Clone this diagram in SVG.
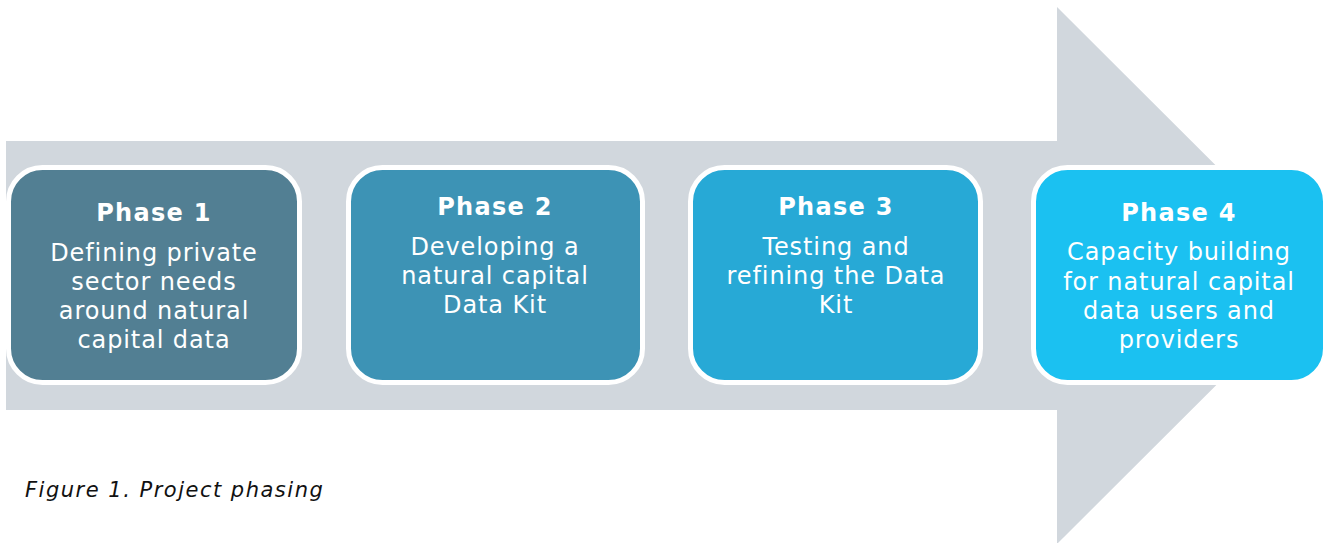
<svg xmlns="http://www.w3.org/2000/svg" width="1329" height="543" viewBox="0 0 1329 543">
<style>
.box{stroke:#ffffff;stroke-width:5}
.t{font-family:"DejaVu Sans",Verdana,sans-serif;fill:#ffffff;text-anchor:middle}
.h{font-size:24px;font-weight:bold;letter-spacing:1.3px}
.b{font-size:24px;letter-spacing:0.9px}
.cap{font-family:"DejaVu Sans",Verdana,sans-serif;font-style:italic;font-size:21px;fill:#111111;letter-spacing:1.5px}
</style>
<rect width="1329" height="543" fill="#ffffff"/>
<g id="arrow">
<polygon points="6,141 1057,141 1057,7 1326,275.5 1057,544 1057,410 6,410" fill="#D1D7DD"/>
</g>
<g id="connectors"></g>
<g id="phase1">
<rect class="box" x="8.5" y="167.5" width="291" height="215" rx="34" fill="#527F93"/>
<text class="t h" x="154" y="221">Phase 1</text>
<text class="t b" x="154" y="261">Defining private</text>
<text class="t b" x="154" y="290">sector needs</text>
<text class="t b" x="154" y="319">around natural</text>
<text class="t b" x="154" y="348">capital data</text>
</g>
<g id="phase2">
<rect class="box" x="348.5" y="167.5" width="294" height="215" rx="34" fill="#3D93B5"/>
<text class="t h" x="495" y="215">Phase 2</text>
<text class="t b" x="495" y="255">Developing a</text>
<text class="t b" x="495" y="284">natural capital</text>
<text class="t b" x="495" y="313">Data Kit</text>
</g>
<g id="phase3">
<rect class="box" x="690.5" y="167.5" width="290" height="215" rx="34" fill="#27A9D6"/>
<text class="t h" x="836" y="215">Phase 3</text>
<text class="t b" x="836" y="255">Testing and</text>
<text class="t b" x="836" y="284">refining the Data</text>
<text class="t b" x="836" y="313">Kit</text>
</g>
<g id="phase4">
<rect class="box" x="1033.5" y="167.5" width="292" height="215" rx="34" fill="#1BC1F1"/>
<text class="t h" x="1179" y="221">Phase 4</text>
<text class="t b" x="1179" y="260">Capacity building</text>
<text class="t b" x="1179" y="290">for natural capital</text>
<text class="t b" x="1179" y="319">data users and</text>
<text class="t b" x="1179" y="348">providers</text>
</g>
<text class="cap" x="25" y="497">Figure 1. Project phasing</text>
</svg>
